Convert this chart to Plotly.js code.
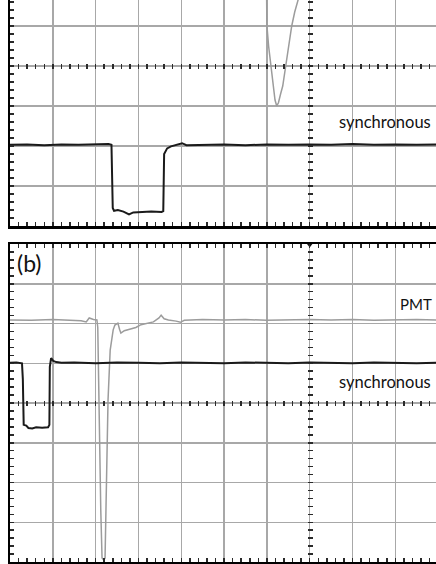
<!DOCTYPE html>
<html>
<head>
<meta charset="utf-8">
<script src="https://cdn.plot.ly/plotly-3.0.1.min.js"></script>
<style>html,body{margin:0;padding:0;background:#fff;}#chart{width:436px;height:564px;}</style>
</head>
<body>
<div id="chart"></div>
<script>
// ---- Data (oscilloscope divisions; 0 = centre graticule line) ----
// Panel (a): synchronous trigger pulse
var topSyncX = [-7.00,-6.60,-6.20,-5.80,-5.40,-5.00,-4.70,-4.63,-4.60,-4.57,-4.48,-4.35,-4.22,-4.12,-3.94,-3.70,-3.46,-3.42,-3.40,-3.37,-3.33,-3.24,-3.10,-2.98,-2.88,-2.50,-2.00,-1.50,-1.00,-0.50,0.00,0.50,1.00,1.50,2.00,2.50,2.97];
var topSyncY = [-1.97,-1.96,-1.98,-1.96,-1.97,-1.96,-1.95,-1.97,-3.55,-3.62,-3.60,-3.64,-3.71,-3.66,-3.65,-3.64,-3.65,-3.63,-2.20,-2.14,-2.06,-2.01,-1.97,-1.93,-1.98,-1.97,-1.96,-1.98,-1.96,-1.97,-1.96,-1.97,-1.95,-1.97,-1.96,-1.97,-1.96];
// Panel (a): PMT signal (baseline above the visible area)
var topPmtX = [-7.00,-1.05,-1.01,-1.00,-0.96,-0.91,-0.86,-0.81,-0.77,-0.73,-0.68,-0.63,-0.56,-0.49,-0.42,-0.35,-0.28,-0.18,-0.05,0.20,2.97];
var topPmtY = [2.30,2.30,2.20,1.02,0.50,0.00,-0.50,-0.85,-1.00,-0.92,-0.70,-0.50,0.00,0.50,1.00,1.35,1.65,2.00,2.25,2.30,2.30];
// Panel (b): PMT signal
var botPmtX = [-7.00,-6.50,-6.00,-5.60,-5.34,-5.22,-5.15,-5.05,-4.97,-4.95,-4.92,-4.88,-4.85,-4.81,-4.78,-4.74,-4.71,-4.66,-4.59,-4.55,-4.48,-4.44,-4.41,-4.33,-4.20,-4.06,-3.94,-3.80,-3.65,-3.52,-3.47,-3.40,-3.30,-3.12,-3.02,-2.93,-2.50,-2.00,-1.50,-1.00,-0.50,0.00,0.50,1.00,1.50,2.00,2.50,2.97];
var botPmtY = [2.09,2.08,2.10,2.09,2.07,2.04,2.14,2.10,2.09,1.90,-0.68,-2.69,-3.90,-3.95,-3.90,-1.18,0.08,1.33,1.84,1.96,2.01,1.85,1.76,1.82,1.86,1.90,1.97,2.00,2.04,2.14,2.21,2.12,2.09,2.06,2.03,2.08,2.10,2.09,2.10,2.08,2.09,2.10,2.09,2.10,2.08,2.09,2.10,2.09];
// Panel (b): synchronous trigger pulse
var botSyncX = [-7.00,-6.85,-6.72,-6.70,-6.68,-6.62,-6.57,-6.48,-6.39,-6.25,-6.11,-6.08,-6.07,-6.04,-5.99,-5.92,-5.80,-5.50,-5.00,-4.50,-4.00,-3.50,-3.00,-2.50,-2.00,-1.50,-1.00,-0.50,0.00,0.50,1.00,1.50,2.00,2.50,2.97];
var botSyncY = [1.01,1.02,1.00,0.60,-0.55,-0.57,-0.63,-0.64,-0.61,-0.62,-0.61,-0.55,0.91,1.13,1.06,1.03,1.01,1.02,1.00,1.02,1.01,1.00,1.02,1.01,1.00,1.02,1.01,1.00,1.02,1.01,1.00,1.02,1.01,1.00,1.01];
// Trigger position marker
var triggerX = [0];
var triggerY = [4];
// Labels (as far as they are visible in the cropped figure)
var labelSync = "synchronous";
var labelPmt = "PMT";
var labelB = "(b)";

// ---- Layout helpers ----
var W = 436, H = 564;
function pxX(p){ return p / W; }
function pxY(p){ return 1 - p / H; }

var gridColor = "#a8a8a8";
var tickColor = "#2a2a2a";
var xRange = [-7, 2.95];
var topYRange = [-4, 1.65];
var botYRange = [-4, 4];
var xDom = [pxX(10), 1];
var topDom = [pxY(226), 1];
var botDom = [pxY(562), pxY(244)];

function mainAxis(extra){
  var a = {
    showgrid: true, gridcolor: gridColor, gridwidth: 1.5,
    dtick: 1, tick0: 0, ticks: "inside", ticklen: 4, tickwidth: 1.5, tickcolor: tickColor,
    showline: true, linecolor: "#000", linewidth: 2.5,
    showticklabels: false, zeroline: false, fixedrange: true,
    minor: {dtick: 0.2, tick0: 0, ticks: "inside", ticklen: 4, tickwidth: 1.5, tickcolor: tickColor, showgrid: false}
  };
  for (var k in extra) a[k] = extra[k];
  return a;
}
function crossAxis(extra){
  var a = {
    showgrid: false, showline: false, zeroline: false, showticklabels: false,
    ticks: "inside", ticklen: 5, tickwidth: 1.5, tickcolor: tickColor,
    dtick: 0.2, tick0: 0, fixedrange: true, anchor: "free"
  };
  for (var k in extra) a[k] = extra[k];
  return a;
}

var traces = [
  {type:"scatter", mode:"lines", x: topPmtX, y: topPmtY, xaxis:"x", yaxis:"y",
   line:{color:"#9c9c9c", width:1.5}, hoverinfo:"skip"},
  {type:"scatter", mode:"lines", x: topSyncX, y: topSyncY, xaxis:"x", yaxis:"y",
   line:{color:"#1a1a1a", width:2}, hoverinfo:"skip"},
  {type:"scatter", mode:"lines", x: botPmtX, y: botPmtY, xaxis:"x2", yaxis:"y2",
   line:{color:"#9c9c9c", width:1.5}, hoverinfo:"skip"},
  {type:"scatter", mode:"lines", x: botSyncX, y: botSyncY, xaxis:"x2", yaxis:"y2",
   line:{color:"#1a1a1a", width:2}, hoverinfo:"skip"},
  {type:"scatter", mode:"markers", x: triggerX, y: triggerY, xaxis:"x2", yaxis:"y2", cliponaxis:false,
   marker:{symbol:"triangle-down", size:7, color:"#111"}, hoverinfo:"skip"},
  // anchors for the centre-line tick axes
  {type:"scatter", mode:"markers", x:[null], y:[null], xaxis:"x3", yaxis:"y", hoverinfo:"skip"},
  {type:"scatter", mode:"markers", x:[null], y:[null], xaxis:"x", yaxis:"y3", hoverinfo:"skip"},
  {type:"scatter", mode:"markers", x:[null], y:[null], xaxis:"x4", yaxis:"y2", hoverinfo:"skip"},
  {type:"scatter", mode:"markers", x:[null], y:[null], xaxis:"x2", yaxis:"y4", hoverinfo:"skip"}
];

var fam = "Lato, 'Open Sans', sans-serif";

var layout = {
  width: W, height: H,
  margin: {l:0, r:0, t:0, b:0, pad:0},
  paper_bgcolor: "#fff", plot_bgcolor: "#fff",
  showlegend: false,
  font: {family: fam, color: "#111", size: 16},
  xaxis: mainAxis({domain: xDom, range: xRange, anchor: "y"}),
  yaxis: mainAxis({domain: topDom, range: topYRange, anchor: "x"}),
  xaxis2: mainAxis({domain: xDom, range: xRange, anchor: "y2", mirror: "ticks"}),
  yaxis2: mainAxis({domain: botDom, range: botYRange, anchor: "x2"}),
  xaxis3: crossAxis({overlaying: "x", domain: xDom, range: xRange, side: "bottom", position: pxY(66 + 2.5)}),
  yaxis3: crossAxis({overlaying: "y", domain: topDom, range: topYRange, side: "left", position: pxX(309.2 - 2.5)}),
  xaxis4: crossAxis({overlaying: "x2", domain: xDom, range: xRange, side: "bottom", position: pxY(403 + 2.5)}),
  yaxis4: crossAxis({overlaying: "y2", domain: botDom, range: botYRange, side: "left", position: pxX(309.2 - 2.5)}),
  annotations: [
    {text: labelSync, xref:"paper", yref:"paper", x: pxX(337), y: pxY(121.5), xanchor:"left", yanchor:"middle", showarrow:false, font:{family:fam, size:16.5, color:"#111"}},
    {text: labelPmt, xref:"paper", yref:"paper", x: pxX(398), y: pxY(304), xanchor:"left", yanchor:"middle", showarrow:false, font:{family:fam, size:15, color:"#111"}},
    {text: labelSync, xref:"paper", yref:"paper", x: pxX(337), y: pxY(381.5), xanchor:"left", yanchor:"middle", showarrow:false, font:{family:fam, size:16.5, color:"#111"}},
    {text: labelB, xref:"paper", yref:"paper", x: pxX(15), y: pxY(262.5), xanchor:"left", yanchor:"middle", showarrow:false, font:{family:fam, size:23, color:"#111"}}
  ]
};

Plotly.newPlot("chart", traces, layout, {displayModeBar:false, staticPlot:true});
</script>
</body>
</html>
